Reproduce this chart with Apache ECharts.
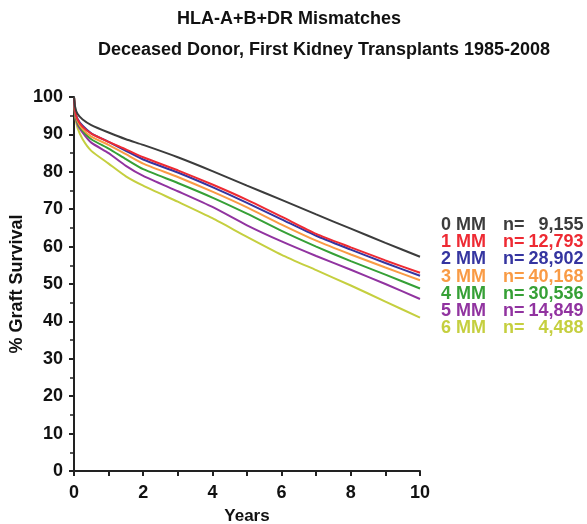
<!DOCTYPE html>
<html>
<head>
<meta charset="utf-8">
<script src="https://cdn.jsdelivr.net/npm/echarts@6/dist/echarts.min.js"></script>
<style>
  html, body { margin: 0; padding: 0; background: #fff; }
  #main { width: 587px; height: 524px; }
</style>
</head>
<body>
<div id="main"></div>
<script>
// time points (years)
var years = [0, 0.03, 0.1, 0.25, 0.5, 1, 1.5, 2, 3, 4, 5, 6, 7, 8, 9, 10];

var groups = ['0 MM', '1 MM', '2 MM', '3 MM', '4 MM', '5 MM', '6 MM'];
var counts = ['9,155', '12,793', '28,902', '40,168', '30,536', '14,849', '4,488'];
var colors = ['#3c3c3c', '#ee2a33', '#3535a0', '#f99b45', '#36a036', '#9133a0', '#c5cf3f'];

// % graft survival per group
var mm0 = [100, 97.5, 95.5, 94.0, 92.5, 90.5, 88.7, 87.2, 83.9, 80.2, 76.3, 72.5, 68.6, 64.8, 61.0, 57.3];
var mm1 = [100, 96.5, 94.0, 92.0, 90.2, 88.0, 86.0, 83.9, 80.4, 76.6, 72.5, 68.0, 63.4, 59.8, 56.3, 53.0];
var mm2 = [100, 96.5, 94.2, 92.3, 90.3, 88.0, 85.6, 83.3, 79.8, 75.9, 71.7, 67.3, 62.9, 59.2, 55.6, 52.2];
var mm3 = [100, 96.2, 93.6, 91.4, 89.4, 87.2, 84.7, 82.2, 78.6, 74.7, 70.5, 65.9, 61.6, 57.9, 54.4, 51.0];
var mm4 = [100, 96.0, 93.2, 91.0, 88.7, 86.2, 83.4, 80.7, 77.0, 73.1, 68.8, 64.2, 60.0, 56.1, 52.5, 48.8];
var mm5 = [100, 95.6, 92.7, 90.5, 87.8, 85.0, 81.6, 78.9, 74.8, 70.6, 65.7, 61.4, 57.5, 53.8, 50.0, 46.0];
var mm6 = [100, 95.0, 91.8, 88.7, 85.6, 82.2, 78.8, 76.3, 72.0, 67.6, 62.6, 57.8, 53.7, 49.6, 45.3, 41.0];

var values = [mm0, mm1, mm2, mm3, mm4, mm5, mm6];

var FONT = '"Liberation Sans", Arial, Helvetica, sans-serif';

var chart = echarts.init(document.getElementById('main'));

var series = groups.map(function (g, i) {
  return {
    name: g,
    type: 'line',
    showSymbol: false,
    smooth: 0.2,
    data: years.map(function (y, k) { return [y, values[i][k]]; }),
    lineStyle: { color: colors[i], width: 2 },
    itemStyle: { color: colors[i] },
    z: 10 - i
  };
});

var option = {
  backgroundColor: '#fff',
  animation: false,
  title: [
    {
      text: 'HLA-A+B+DR Mismatches',
      left: 284, top: 5, textAlign: 'center',
      textStyle: { fontFamily: FONT, fontSize: 18, fontWeight: 'bold', color: '#111' }
    },
    {
      text: 'Deceased Donor, First Kidney Transplants 1985-2008',
      left: 319, top: 36, textAlign: 'center',
      textStyle: { fontFamily: FONT, fontSize: 18, fontWeight: 'bold', color: '#111' }
    }
  ],
  legend: {
    orient: 'vertical',
    left: 431, top: 211,
    icon: 'none',
    itemWidth: 0, itemHeight: 10,
    itemGap: -0.8,
    selectedMode: false,
    data: groups.map(function (g, i) {
      return { name: g, textStyle: { color: colors[i] } };
    }),
    formatter: function (name) {
      var i = groups.indexOf(name);
      return '{a|' + name + '}{b|n=}{c|' + counts[i] + '}';
    },
    textStyle: {
      fontFamily: FONT, fontSize: 18, fontWeight: 'bold',
      rich: {
        a: { fontFamily: FONT, fontSize: 18, fontWeight: 'bold', width: 62 },
        b: { fontFamily: FONT, fontSize: 18, fontWeight: 'bold' },
        c: { fontFamily: FONT, fontSize: 18, fontWeight: 'bold', width: 59, align: 'right' }
      }
    }
  },
  grid: { left: 74, right: 167, top: 97, bottom: 53, containLabel: false, outerBoundsMode: 'none' },
  xAxis: {
    type: 'value',
    min: 0, max: 10, interval: 1,
    name: 'Years',
    nameLocation: 'middle',
    nameGap: 37,
    nameTextStyle: { fontFamily: FONT, fontSize: 17, fontWeight: 'bold', color: '#111' },
    axisLine: { lineStyle: { color: '#222', width: 2 } },
    axisTick: { show: true, length: 5, lineStyle: { color: '#222', width: 2 } },
    axisLabel: {
      fontFamily: FONT, fontSize: 18, fontWeight: 'bold', color: '#111', margin: 13,
      formatter: function (v) { return v % 2 === 0 ? String(v) : ''; }
    },
    splitLine: { show: false }
  },
  yAxis: {
    type: 'value',
    min: 0, max: 100, interval: 10,
    name: '% Graft Survival',
    nameLocation: 'middle',
    nameGap: 48,
    nameMoveOverlap: false,
    nameRotate: 90,
    nameTextStyle: { fontFamily: FONT, fontSize: 18, fontWeight: 'bold', color: '#111' },
    axisLine: { show: true, lineStyle: { color: '#222', width: 2 } },
    axisTick: { show: true, length: 5, lineStyle: { color: '#222', width: 2 } },
    minorTick: { show: true, splitNumber: 2, length: 4, lineStyle: { color: '#222', width: 1.5 } },
    axisLabel: { fontFamily: FONT, fontSize: 18, fontWeight: 'bold', color: '#111', margin: 11 },
    splitLine: { show: false }
  },
  series: series
};

chart.setOption(option);
</script>
</body>
</html>
